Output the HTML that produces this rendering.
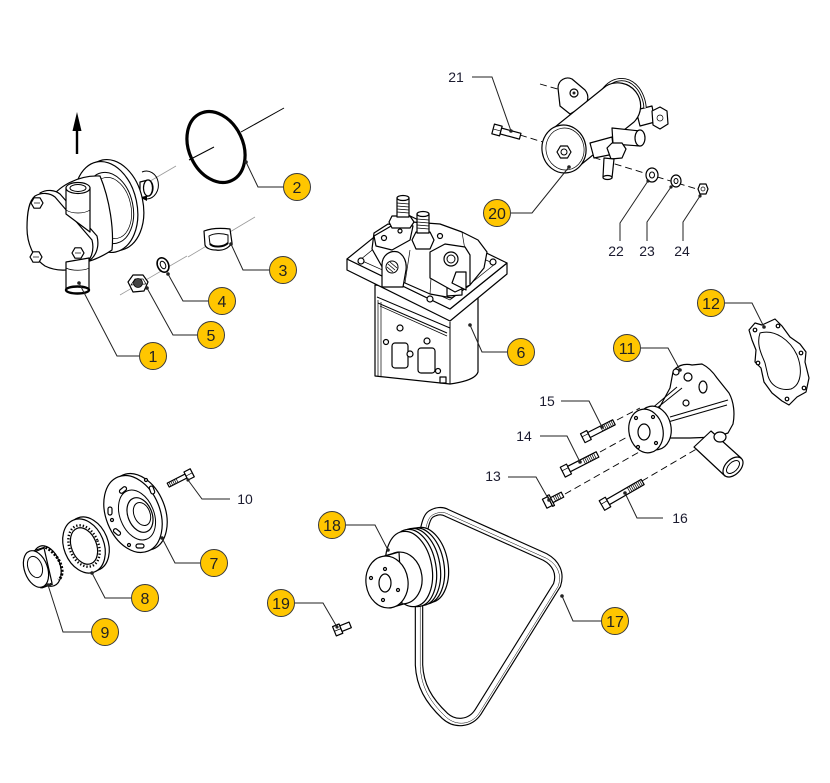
<!DOCTYPE html>
<html><head><meta charset="utf-8">
<style>
html,body{margin:0;padding:0;background:#fff;}
svg{display:block;}
.o{fill:#fff;stroke:#000;stroke-width:1.2;stroke-linejoin:round}
.l{fill:none;stroke:#000;stroke-width:1}
.t{fill:none;stroke:#000;stroke-width:0.7}
.ax{stroke:#9a9a9a;stroke-width:0.8;fill:none}
.ld{fill:none;stroke:#222;stroke-width:1}
.dash{fill:none;stroke:#000;stroke-width:0.9;stroke-dasharray:7 4}
.c{fill:#FFC600;stroke:#3a3a3a;stroke-width:1}
.cn{font-family:"Liberation Sans",sans-serif;font-size:16px;fill:#222;text-anchor:middle}
.lb{font-family:"Liberation Sans",sans-serif;font-size:14px;fill:#1b1b2f;text-anchor:middle}
.dot{fill:#222}
</style></head><body>
<svg width="830" height="783" viewBox="0 0 830 783" xmlns="http://www.w3.org/2000/svg">

<!-- ============ ITEM 1 WATER PUMP (left) ============ -->
<line x1="77" y1="154" x2="77" y2="128" stroke="#000" stroke-width="2.4"/>
<polygon points="72.5,131 81.5,131 77,112" fill="#000"/>
<line class="ax" x1="140" y1="187" x2="176" y2="166"/>
<path class="l" d="M142,172 A12,14 0 1 1 147,199"/>
<polygon points="141,198 147,195 147,201" fill="#000"/>
<path class="o" d="M140,182 L148,180 A5,8 0 0 1 148,196 L140,198 Z"/>
<ellipse class="o" cx="148" cy="188" rx="4.5" ry="8"/>
<ellipse class="o" cx="112" cy="205" rx="31" ry="46" transform="rotate(-12 112 205)"/>
<ellipse class="o" cx="106" cy="207" rx="31" ry="46" transform="rotate(-12 106 207)"/>
<ellipse class="l" cx="109" cy="208" rx="24" ry="36" transform="rotate(-12 109 208)"/>
<ellipse class="t" cx="111" cy="208" rx="20" ry="31" transform="rotate(-12 111 208)"/>
<path class="o" d="M48,202 C58,186 78,175 100,176 C110,200 114,230 112,250 C100,258 90,262 80,263 Z"/>
<path class="o" d="M40,193 C47,189 55,190 60,194 L97,236 C100,248 95,258 87,262 L60,240 Z"/>
<path class="o" d="M35,196 C42,192 50,193 55,197 L92,240 C95,252 90,262 82,266 C70,272 55,271 45,266 C33,258 27,243 27,228 C27,212 29,201 35,196 Z"/>
<path class="o" d="M66,188 L66,214 L90,232 L90,188 Z"/>
<ellipse class="o" cx="78" cy="188" rx="12" ry="5.5"/>
<ellipse class="l" cx="78" cy="188" rx="8" ry="3.5"/>
<path class="t" d="M66,210 C72,214 84,214 90,210"/>
<path class="o" d="M66,262 L66,290 L89,290 L89,258 Z"/>
<path class="t" d="M66,268 C72,271 84,271 89,268"/>
<ellipse cx="77.5" cy="290" rx="11.5" ry="3.5" fill="#fff" stroke="#000" stroke-width="2.4"/>
<polygon class="o" points="31,203 34,197.8 40,197.8 43,203 40,208.2 34,208.2"/>
<polygon class="o" points="30,257 33,251.8 39,251.8 42,257 39,262.2 33,262.2"/>
<polygon class="o" points="72,253 75,247.8 81,247.8 84,253 81,258.2 75,258.2"/>
<line class="t" x1="34" y1="203" x2="40" y2="203"/>
<line class="t" x1="33" y1="257" x2="39" y2="257"/>
<line class="t" x1="75" y1="253" x2="81" y2="253"/>

<!-- ============ ITEM 2 O-RING ============ -->
<line class="l" x1="189" y1="160" x2="214" y2="147"/>
<line class="l" x1="241" y1="132" x2="284" y2="108"/>
<ellipse cx="216" cy="147" rx="27" ry="37" transform="rotate(-25 216 147)" fill="none" stroke="#000" stroke-width="3.2"/>

<!-- ============ ITEM 3,4,5 ============ -->
<line class="ax" x1="188" y1="257" x2="255" y2="217"/>
<line class="ax" x1="120" y1="295" x2="187" y2="256"/>
<path class="o" d="M204,231 C212,228 222,228 230,229 L232,243 C228,249 222,251 216,250 C210,250 206,248 205,245 Z"/>
<path class="l" d="M209,236 C214,233 222,233 228,235 L228,243 C224,247 214,248 210,244 Z"/>
<path d="M210,244 C214,248 224,247 228,243" stroke="#000" stroke-width="2" fill="none"/>
<ellipse cx="163" cy="265" rx="5.5" ry="7.5" transform="rotate(-25 163 265)" fill="#fff" stroke="#000" stroke-width="1.6"/>
<ellipse class="l" cx="163" cy="265" rx="2.5" ry="4" transform="rotate(-25 163 265)"/>
<polygon class="o" points="128,282 133,275 143,275 148,282 144,291 133,292"/>
<polygon class="t" points="131,285 135,279 143,279 146,284"/>
<circle cx="138" cy="283" r="4.5" fill="#444" stroke="#000" stroke-width="0.8"/>

<!-- ============ ITEM 6 INJECTION PUMP ============ -->
<path class="o" d="M375,285 L375,376 L450,384 C465,382 476,378 478,372 L478,295 Z"/>
<line class="l" x1="450" y1="322" x2="450" y2="384"/>
<line class="t" x1="378" y1="300" x2="378" y2="376"/>
<line class="t" x1="381" y1="302" x2="381" y2="377"/>
<line class="l" x1="377" y1="297" x2="450" y2="328"/>
<line class="l" x1="378" y1="303" x2="447" y2="333"/>
<line class="t" x1="380" y1="306" x2="447" y2="336"/>
<rect class="o" x="392" y="343" width="16" height="25" rx="3"/>
<rect class="o" x="418" y="348" width="17" height="25" rx="3"/>
<circle class="o" cx="400" cy="328" r="3"/>
<circle class="o" cx="427" cy="341" r="3"/>
<circle class="o" cx="386" cy="342" r="2.5"/>
<circle class="o" cx="410" cy="354" r="3"/>
<circle class="o" cx="438" cy="371" r="2.5"/>
<rect class="o" x="440" y="377" width="6" height="6"/>
<circle class="dot" cx="470" cy="325" r="1.8"/>
<path class="o" d="M347,259 L347,270 L450,321 L507,274 L507,263 L450,309 Z"/>
<path class="o" d="M347,259 L404,213 L507,263 L450,309 Z"/>
<path class="t" d="M360,260 L404,224 L495,264 L450,300 Z"/>
<circle class="o" cx="361" cy="261" r="3"/>
<circle class="o" cx="430" cy="299" r="3"/>
<circle class="o" cx="493" cy="262" r="3"/>
<path class="o" d="M372,249 L374,233 L388,224 L400,226 L412,222 L440,224 L462,232 L478,240 L487,252 L484,268 L470,285 L452,298 L430,294 L405,283 L385,272 Z"/>
<line class="t" x1="405" y1="283" x2="410" y2="250"/>
<line class="t" x1="430" y1="294" x2="432" y2="262"/>
<line class="t" x1="462" y1="232" x2="465" y2="250"/>
<path class="o" d="M447,296 L447,278 L455,275 L462,279 L462,295 Z"/>
<path class="o" d="M374,236 L398,222 L413,226 L410,240 L392,250 L376,246 Z"/>
<circle class="o" cx="384" cy="238" r="2.5"/>
<circle class="o" cx="400" cy="231" r="2"/>
<polygon class="o" points="389,222 392,216 410,216 414,222 410,228 392,228"/>
<rect class="o" x="397" y="198" width="12" height="19"/>
<line class="t" x1="397" y1="203" x2="409" y2="204"/>
<line class="t" x1="397" y1="206" x2="409" y2="207"/>
<line class="t" x1="397" y1="209" x2="409" y2="210"/>
<line class="t" x1="397" y1="212" x2="409" y2="213"/>
<ellipse class="o" cx="403" cy="198" rx="6" ry="2.5"/>
<polygon class="o" points="412,240 416,232 430,232 434,240 430,249 416,249"/>
<rect class="o" x="417" y="214" width="12" height="19"/>
<line class="t" x1="417" y1="219" x2="429" y2="220"/>
<line class="t" x1="417" y1="222" x2="429" y2="223"/>
<line class="t" x1="417" y1="225" x2="429" y2="226"/>
<line class="t" x1="417" y1="228" x2="429" y2="229"/>
<ellipse class="o" cx="423" cy="214" rx="6" ry="2.5"/>
<circle class="o" cx="440" cy="236" r="2.5"/>
<path class="o" d="M382,287 L382,265 C382,255 390,250 398,252 C404,255 407,262 406,270 L403,287 Z"/>
<circle cx="392" cy="267" r="6" fill="#fff" stroke="#000" stroke-width="1"/>
<path d="M388,264 L395,270 M387,267 L393,272 M390,262 L397,268" stroke="#000" stroke-width="0.8"/>
<path class="o" d="M430,278 L430,252 L445,244 L465,247 L470,255 L470,285 L455,292 Z"/>
<circle class="o" cx="451" cy="259" r="7"/>
<circle class="l" cx="451" cy="259" r="4"/>
<path class="o" d="M452,283 L456,272 L466,272 L466,290 Z"/>

<!-- ============ ITEM 20 ASSEMBLY ============ -->
<line class="dash" x1="540" y1="84" x2="568" y2="92"/>
<line class="dash" x1="520" y1="135" x2="700" y2="190"/>
<path class="o" d="M636,110 L652,106 L655,122 L640,126 Z"/>
<polygon class="o" points="652,111 660,107 667,111 668,124 660,129 653,125"/>
<circle class="t" cx="660" cy="118" r="3"/>
<path d="M603,90 C612,78 626,76 636,86 C642,92 645,102 645,108" fill="none" stroke="#000" stroke-width="3.2"/>
<path d="M603,90 C612,78 626,76 636,86 C642,92 645,102 645,108" fill="none" stroke="#fff" stroke-width="1.4"/>
<path class="o" d="M558,88 C558,80 566,76 572,79 L585,90 C590,96 588,104 582,107 L570,114 L560,106 Z"/>
<circle class="o" cx="574" cy="93" r="4"/>
<circle class="dot" cx="574" cy="93" r="1.5"/>
<path class="o" d="M550,131 L606,86 A23,23 0 0 1 634,122 L578,167 Z"/>
<path class="o" d="M612,128 L640,131 L640,146 L613,144 Z"/>
<ellipse class="o" cx="640" cy="138" rx="5" ry="8"/>
<path class="o" d="M590,143 L612,137 L614,154 L594,158 Z"/>
<polygon class="o" points="607,148 612,143 622,143 626,149 622,158 611,159"/>
<path class="o" d="M604,158 L614,159 L612,178 L603,177 Z"/>
<ellipse class="o" cx="607.5" cy="177.5" rx="4.5" ry="2"/>
<ellipse class="o" cx="564" cy="149" rx="22" ry="24" transform="rotate(-10 564 149)"/>
<ellipse class="t" cx="565" cy="149" rx="19" ry="21" transform="rotate(-10 565 149)"/>
<polygon class="o" points="557,152 560.5,146 567.5,146 571,152 567.5,158 560.5,158"/>
<circle class="l" cx="564" cy="152" r="3"/>
<circle class="dot" cx="569" cy="167" r="1.8"/>
<g transform="translate(497,130) rotate(15)">
<rect class="o" x="-4" y="-5" width="8" height="10"/>
<line class="t" x1="-4" y1="0" x2="4" y2="0"/>
<rect class="o" x="4" y="-3" width="20" height="6"/>
</g>
<circle class="dot" cx="511" cy="131" r="1.8"/>
<ellipse class="o" cx="652" cy="175" rx="6" ry="7"/>
<ellipse class="l" cx="652" cy="175" rx="2.5" ry="3"/>
<ellipse class="o" cx="676" cy="181" rx="5" ry="6"/>
<ellipse class="l" cx="676" cy="181" rx="2" ry="2.5"/>
<polygon class="o" points="698,189 700,184 706,184 708,189 706,194 700,194"/>
<circle class="t" cx="703" cy="189" r="2"/>

<!-- ============ ITEM 12 GASKET ============ -->
<path class="o" d="M749,330 L755,323 L762,325 L775,319 L782,326 L790,337 L800,344 L806,352 L805,362 L809,378 L806,392 L797,397 L789,405 L782,401 L772,393 L764,382 L761,368 L755,362 L756,350 L752,340 Z"/>
<path class="l" d="M760,333 C775,329 790,340 797,355 C803,370 801,385 791,389 C780,391 771,386 768,376 L765,363 C762,355 756,345 760,333 Z"/>
<circle class="o" cx="755" cy="330" r="1.8"/>
<circle class="o" cx="778" cy="326" r="1.8"/>
<circle class="o" cx="801" cy="353" r="1.8"/>
<circle class="o" cx="804" cy="388" r="1.8"/>
<circle class="o" cx="787" cy="399" r="1.8"/>
<circle class="o" cx="758" cy="363" r="1.8"/>
<circle class="dot" cx="764" cy="327" r="1.8"/>

<!-- ============ ITEM 11 WATER PUMP ============ -->
<line class="dash" x1="617" y1="420" x2="640" y2="408"/>
<line class="dash" x1="600" y1="452" x2="640" y2="430"/>
<line class="dash" x1="565" y1="494" x2="648" y2="447"/>
<line class="dash" x1="642" y1="481" x2="717" y2="437"/>
<path class="o" d="M657,412 L670,388 L673,372 C676,366 684,363 692,365 L702,364 C708,367 713,372 717,378 L729,393 C734,402 735,414 733,424 L728,433 L716,437 L690,438 L668,438 Z"/>
<path class="o" d="M711,431 L741,458 L725,476 L694,447 Z"/>
<ellipse class="o" cx="733" cy="467" rx="12" ry="7.5" transform="rotate(-45 733 467)"/>
<ellipse class="l" cx="733" cy="467" rx="8" ry="4.5" transform="rotate(-45 733 467)"/>
<line class="l" x1="650" y1="410" x2="677" y2="387"/>
<line class="l" x1="657" y1="408" x2="682" y2="388"/>
<line class="l" x1="670" y1="417" x2="728" y2="400"/>
<line class="l" x1="668" y1="422" x2="727" y2="405"/>
<circle class="o" cx="688" cy="377" r="4"/>
<circle class="o" cx="676" cy="372" r="3"/>
<ellipse class="o" cx="703" cy="387" rx="4" ry="6"/>
<circle class="o" cx="686" cy="403" r="3"/>
<ellipse class="o" cx="720" cy="437" rx="6" ry="5"/>
<circle class="dot" cx="680" cy="370" r="1.8"/>
<ellipse class="o" cx="654" cy="428" rx="17" ry="22" transform="rotate(-12 654 428)"/>
<ellipse class="o" cx="646" cy="431" rx="17" ry="22" transform="rotate(-12 646 431)"/>
<ellipse class="o" cx="644" cy="432" rx="6" ry="8"/>
<circle class="o" cx="636" cy="418" r="1.5"/>
<circle class="o" cx="653" cy="417" r="1.5"/>
<circle class="o" cx="656" cy="443" r="1.5"/>
<circle class="o" cx="638" cy="447" r="1.5"/>

<g transform="translate(589,435) rotate(-27)">
<rect class="o" x="-7" y="-5" width="7" height="10"/>
<line class="t" x1="-7" y1="-1.5" x2="0" y2="-1.5"/>
<rect class="o" x="0" y="-2.8" width="28" height="5.6"/>
<path class="t" d="M14,-2.8v5.6M16,-2.8v5.6M18,-2.8v5.6M20,-2.8v5.6M22,-2.8v5.6M24,-2.8v5.6M26,-2.8v5.6"/>
</g>
<g transform="translate(569,469) rotate(-27)">
<rect class="o" x="-7" y="-5.5" width="7" height="11"/>
<line class="t" x1="-7" y1="-1.5" x2="0" y2="-1.5"/>
<rect class="o" x="0" y="-3" width="32" height="6"/>
<path class="t" d="M17,-3v6M19,-3v6M21,-3v6M23,-3v6M25,-3v6M27,-3v6M29,-3v6"/>
</g>
<g transform="translate(550,501) rotate(-27)">
<rect class="o" x="-6" y="-5" width="6" height="10"/>
<rect class="o" x="0" y="-6" width="2" height="12"/>
<rect class="o" x="2" y="-2.8" width="12" height="5.6"/>
<path class="t" d="M5,-2.8v5.6M7,-2.8v5.6M9,-2.8v5.6M11,-2.8v5.6"/>
</g>
<g transform="translate(608,502) rotate(-30)">
<rect class="o" x="-7" y="-5.5" width="7" height="11"/>
<line class="t" x1="-7" y1="-1.5" x2="0" y2="-1.5"/>
<rect class="o" x="0" y="-3" width="40" height="6"/>
<path class="t" d="M24,-3v6M26,-3v6M28,-3v6M30,-3v6M32,-3v6M34,-3v6M36,-3v6M38,-3v6"/>
</g>
<circle class="dot" cx="602" cy="427" r="1.8"/>
<circle class="dot" cx="580" cy="462" r="1.8"/>
<circle class="dot" cx="549" cy="500" r="1.8"/>
<circle class="dot" cx="625" cy="493" r="1.8"/>

<!-- ============ ITEM 7,8,9,10 ============ -->
<g transform="translate(186,476) rotate(-27)">
<rect class="o" x="-20" y="-2.2" width="20" height="4.4"/>
<path class="t" d="M-18,-2.2v4.4M-16,-2.2v4.4M-14,-2.2v4.4M-12,-2.2v4.4M-10,-2.2v4.4"/>
<rect class="o" x="0" y="-4.5" width="7" height="9"/>
<line class="t" x1="0" y1="0" x2="7" y2="0"/>
</g>
<circle class="dot" cx="188" cy="480" r="1.6"/>
<ellipse class="o" cx="138" cy="512" rx="27" ry="40" transform="rotate(-22 138 512)"/>
<ellipse class="o" cx="133" cy="514" rx="27" ry="40" transform="rotate(-22 133 514)"/>
<ellipse class="l" cx="137" cy="515" rx="17" ry="26" transform="rotate(-22 137 515)"/>
<ellipse class="o" cx="140" cy="515" rx="12" ry="18" transform="rotate(-22 140 515)"/>
<ellipse class="l" cx="142" cy="514" rx="8" ry="12" transform="rotate(-22 142 514)"/>
<rect class="o" x="119" y="488" width="8" height="4" rx="2" transform="rotate(-40 123 490)"/>
<rect class="o" x="108" y="507" width="4" height="8" rx="2"/>
<rect class="o" x="113" y="530" width="8" height="4" rx="2" transform="rotate(40 117 532)"/>
<rect class="o" x="136" y="544" width="8" height="4" rx="2"/>
<rect class="o" x="150" y="486" width="4" height="8" rx="2" transform="rotate(-20 152 490)"/>
<circle class="o" cx="112" cy="520" r="1.5"/>
<circle class="o" cx="129" cy="545" r="1.5"/>
<circle class="o" cx="146" cy="480" r="1.5"/>
<circle class="dot" cx="162" cy="538" r="1.8"/>

<ellipse class="o" cx="88" cy="544" rx="20" ry="28" transform="rotate(-22 88 544)"/>
<ellipse class="o" cx="84" cy="546" rx="20" ry="28" transform="rotate(-22 84 546)"/>
<ellipse cx="84" cy="546" rx="14.5" ry="21.5" transform="rotate(-22 84 546)" fill="none" stroke="#000" stroke-width="2.4" stroke-dasharray="1.3 2"/>
<ellipse class="o" cx="84" cy="546" rx="12.5" ry="19" transform="rotate(-22 84 546)"/>
<circle class="dot" cx="92" cy="573" r="1.8"/>

<ellipse class="o" cx="47" cy="566" rx="13" ry="21" transform="rotate(-20 47 566)"/>
<path d="M52,548 A13,21 -20 0 1 53,583" transform="rotate(-20 47 566)" fill="none" stroke="#000" stroke-width="3" stroke-dasharray="2 1.6"/>
<path class="o" d="M32,553 L44,548 L52,583 L41,588 Z" stroke="none"/>
<line class="l" x1="33" y1="551" x2="45" y2="547"/>
<line class="l" x1="42" y1="588" x2="53" y2="584"/>
<ellipse class="o" cx="36" cy="569" rx="11.5" ry="19" transform="rotate(-20 36 569)"/>
<ellipse class="l" cx="35" cy="567" rx="7" ry="11" transform="rotate(-20 35 567)"/>
<circle class="dot" cx="48" cy="585" r="1.8"/>

<!-- ============ ITEM 17 BELT ============ -->
<path d="M431,514 C436,511 442,510 447,513 L545,557 C556,563 561,573 557,585 L478,712 C470,724 455,725 445,716 C428,700 420,685 419,665 L419,605 C419,585 420,560 424,530 C426,520 428,516 431,514 Z" fill="none" stroke="#000" stroke-width="8.5" stroke-linejoin="round"/>
<path d="M431,514 C436,511 442,510 447,513 L545,557 C556,563 561,573 557,585 L478,712 C470,724 455,725 445,716 C428,700 420,685 419,665 L419,605 C419,585 420,560 424,530 C426,520 428,516 431,514 Z" fill="none" stroke="#fff" stroke-width="6.2" stroke-linejoin="round"/>
<path d="M431,514 C436,511 442,510 447,513 L545,557 C556,563 561,573 557,585 L478,712 C470,724 455,725 445,716 C428,700 420,685 419,665 L419,605 C419,585 420,560 424,530 C426,520 428,516 431,514 Z" fill="none" stroke="#000" stroke-width="0.5" transform="translate(1.2,1.2)"/>
<circle class="dot" cx="562" cy="596" r="1.8"/>

<!-- ============ ITEM 18 PULLEY ============ -->
<ellipse class="o" cx="425" cy="565" rx="23" ry="38" transform="rotate(-10 425 565)"/>
<ellipse class="o" cx="421" cy="566" rx="23" ry="38.5" transform="rotate(-10 421 566)"/>
<ellipse class="o" cx="417" cy="567" rx="23" ry="39" transform="rotate(-10 417 567)"/>
<ellipse class="o" cx="413" cy="568" rx="23" ry="39" transform="rotate(-10 413 568)"/>
<ellipse class="o" cx="409" cy="569" rx="23" ry="38" transform="rotate(-10 409 569)"/>
<ellipse class="o" cx="401" cy="578" rx="21" ry="26" transform="rotate(-8 401 578)"/>
<path class="o" d="M385,556 L399,552 L402,604 L390,608 Z" stroke="none"/>
<line class="l" x1="384" y1="556" x2="398" y2="552"/>
<line class="l" x1="390" y1="608" x2="404" y2="604"/>
<ellipse class="o" cx="387" cy="582" rx="21" ry="26" transform="rotate(-8 387 582)"/>
<ellipse class="o" cx="385" cy="583" rx="6" ry="9"/>
<circle class="o" cx="385" cy="569" r="1.5"/>
<circle class="o" cx="371" cy="578" r="1.5"/>
<circle class="o" cx="398" cy="590" r="1.5"/>
<circle class="o" cx="383" cy="600" r="1.5"/>
<circle class="dot" cx="388" cy="550" r="1.8"/>

<g transform="translate(340,629) rotate(-22)">
<rect class="o" x="-6" y="-5" width="7" height="10"/>
<line class="t" x1="-6" y1="0" x2="1" y2="0"/>
<rect class="o" x="1" y="-3" width="10" height="6"/>
</g>
<circle class="dot" cx="337" cy="627" r="1.6"/>

<!-- ============ LEADERS ============ -->
<polyline class="ld" points="139,356 117,356 79,283"/><circle class="dot" cx="79" cy="283" r="1.8"/>
<polyline class="ld" points="283,187 258,187 246,162"/><circle class="dot" cx="246" cy="162" r="1.8"/>
<polyline class="ld" points="269,270 243,270 231,244"/><circle class="dot" cx="231" cy="244" r="1.8"/>
<polyline class="ld" points="208,301 183,301 168,274"/><circle class="dot" cx="168" cy="274" r="1.8"/>
<polyline class="ld" points="197,335 173,335 147,288"/><circle class="dot" cx="147" cy="288" r="1.8"/>
<polyline class="ld" points="507,352 482,352 470,325"/>
<polyline class="ld" points="511,213 532,213 569,167"/>
<polyline class="ld" points="472,77 492,77 511,131"/>
<polyline class="ld" points="620,241 620,223 648,181"/><circle class="dot" cx="648" cy="181" r="1.6"/>
<polyline class="ld" points="647,241 647,222 671,187"/><circle class="dot" cx="671" cy="187" r="1.6"/>
<polyline class="ld" points="683,241 683,222 700,196"/><circle class="dot" cx="700" cy="196" r="1.6"/>
<polyline class="ld" points="725,303 752,303 764,327"/>
<polyline class="ld" points="641,348 668,348 680,370"/>
<polyline class="ld" points="561,401 589,401 602,427"/>
<polyline class="ld" points="540,436 567,436 580,462"/>
<polyline class="ld" points="508,477 536,477 549,500"/>
<polyline class="ld" points="663,518 637,518 625,493"/>
<polyline class="ld" points="230,499 202,499 188,480"/>
<polyline class="ld" points="200,563 175,563 162,538"/>
<polyline class="ld" points="131,598 105,598 92,573"/>
<polyline class="ld" points="91,632 63,632 48,585"/>
<polyline class="ld" points="346,525 375,525 388,550"/>
<polyline class="ld" points="295,603 323,603 337,627"/>
<polyline class="ld" points="601,621 573,621 562,596"/>

<!-- ============ CALLOUTS ============ -->
<circle class="c" cx="153" cy="356" r="13.5"/><text class="cn" x="153" y="362">1</text>
<circle class="c" cx="297" cy="187" r="13.5"/><text class="cn" x="297" y="193">2</text>
<circle class="c" cx="283" cy="270" r="13.5"/><text class="cn" x="283" y="276">3</text>
<circle class="c" cx="222" cy="301" r="13.5"/><text class="cn" x="222" y="307">4</text>
<circle class="c" cx="211" cy="335" r="13.5"/><text class="cn" x="211" y="341">5</text>
<circle class="c" cx="521" cy="352" r="13.5"/><text class="cn" x="521" y="358">6</text>
<circle class="c" cx="214" cy="563" r="13.5"/><text class="cn" x="214" y="569">7</text>
<circle class="c" cx="145" cy="598" r="13.5"/><text class="cn" x="145" y="604">8</text>
<circle class="c" cx="105" cy="632" r="13.5"/><text class="cn" x="105" y="638">9</text>
<circle class="c" cx="627" cy="348" r="13.5"/><text class="cn" x="627" y="354">11</text>
<circle class="c" cx="711" cy="303" r="13.5"/><text class="cn" x="711" y="309">12</text>
<circle class="c" cx="615" cy="621" r="13.5"/><text class="cn" x="615" y="627">17</text>
<circle class="c" cx="332" cy="525" r="13.5"/><text class="cn" x="332" y="531">18</text>
<circle class="c" cx="281" cy="603" r="13.5"/><text class="cn" x="281" y="609">19</text>
<circle class="c" cx="497" cy="213" r="13.5"/><text class="cn" x="497" y="219">20</text>

<!-- ============ PLAIN LABELS ============ -->
<text class="lb" x="245" y="504">10</text>
<text class="lb" x="493" y="481">13</text>
<text class="lb" x="524" y="441">14</text>
<text class="lb" x="547" y="406">15</text>
<text class="lb" x="680" y="523">16</text>
<text class="lb" x="456" y="82">21</text>
<text class="lb" x="616" y="256">22</text>
<text class="lb" x="647" y="256">23</text>
<text class="lb" x="682" y="256">24</text>
</svg>
</body></html>
